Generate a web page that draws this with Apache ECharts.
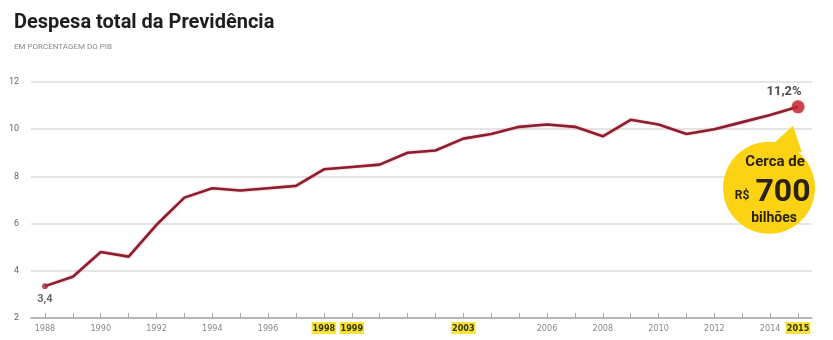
<!DOCTYPE html>
<html>
<head>
<meta charset="utf-8">
<script src="https://cdn.jsdelivr.net/npm/echarts@6/dist/echarts.min.js"></script>
<style>
html,body{margin:0;padding:0;background:#fff;}
#chart{width:833px;height:340px;}
</style>
</head>
<body>
<div id="chart"></div>
<script>
// ---- data ----
const years = ['1988','1989','1990','1991','1992','1993','1994','1995','1996','1997',
  '1998','1999','2000','2001','2002','2003','2004','2005','2006','2007',
  '2008','2009','2010','2011','2012','2013','2014','2015'];
const despesa = [3.35,3.75,4.8,4.6,5.95,7.1,7.5,7.4,7.5,7.6,
  8.3,8.4,8.5,9.0,9.1,9.6,9.8,10.1,10.2,10.1,
  9.7,10.4,10.2,9.8,10.0,10.3,10.6,10.95];
const labelYears = ['1988','1990','1992','1994','1996','1998','1999','2003','2006','2008','2010','2012','2014','2015'];
const highlightYears = ['1998','1999','2003','2015'];
const yTicks = [2,4,6,8,10,12];
const firstLabel = '3,4';
const lastLabel = '11,2%';
const bubbleLines = ['Cerca de', 'R$', '700', 'bilhões'];

const chart = echarts.init(document.getElementById('chart'));
const FONT = 'Roboto, "Noto Sans", sans-serif';

const option = {
  animation: false,
  backgroundColor: '#fff',
  title: {
    left: 9, top: 8,
    text: 'Despesa total da Previdência',
    subtext: 'EM PORCENTAGEM DO PIB',
    itemGap: 10,
    textStyle: {fontFamily: FONT, fontWeight: 'bold', fontSize: 20, color: '#1e1e1e'},
    subtextStyle: {fontFamily: FONT, fontSize: 8, color: '#8a8a8a'}
  },
  grid: {left: 31, right: 21, top: 82, bottom: 22},
  xAxis: {
    type: 'category',
    data: years,
    boundaryGap: true,
    axisLine: {lineStyle: {color: '#a8a8a8', width: 1.5}},
    axisTick: {show: true, inside: true, length: 5, alignWithLabel: true, interval: 0,
      lineStyle: {color: '#a8a8a8'}},
    axisLabel: {
      interval: function (i, v) { return labelYears.indexOf(v) >= 0; },
      margin: 4,
      fontFamily: '"DejaVu Sans Condensed", "DejaVu Sans", sans-serif',
      fontSize: 9,
      color: '#888',
      formatter: function (v) {
        return highlightYears.indexOf(v) >= 0 ? '{h|' + v + '}' : '{n|' + v + '}';
      },
      rich: {
        n: {fontSize: 9, color: '#888', padding: [2, 0, 1, 0]},
        h: {fontSize: 9, color: '#3a3300', fontWeight: 'bold', backgroundColor: '#f6e33a', padding: [2, 1, 1, 1]}
      }
    },
    splitLine: {show: false}
  },
  yAxis: {
    type: 'value',
    min: yTicks[0], max: yTicks[yTicks.length - 1], interval: 2,
    axisLine: {show: false},
    axisTick: {show: false},
    axisLabel: {margin: 12, fontFamily: FONT, fontSize: 9, color: '#666'},
    splitLine: {lineStyle: {color: '#dcdcdc', width: 1.5}}
  },
  series: [
    {
      type: 'line',
      data: despesa,
      symbol: 'none',
      z: 3,
      lineStyle: {color: '#8a1f30', width: 2.6, shadowColor: 'rgba(240,90,110,0.6)', shadowBlur: 2}
    },
    {
      type: 'scatter',
      z: 4,
      data: [
        {value: [years[0], despesa[0]], symbolSize: 6,
          itemStyle: {color: '#a3283c'},
          label: {show: true, position: 'bottom', distance: 5, formatter: firstLabel,
            fontFamily: FONT, fontWeight: 'bold', fontSize: 11, color: '#444'}},
        {value: [years[years.length - 1], despesa[despesa.length - 1]], symbolSize: 13,
          itemStyle: {color: '#c32630', shadowColor: 'rgba(200,40,50,0.4)', shadowBlur: 2},
          label: {show: true, position: 'top', distance: 2, offset: [-14, 0], formatter: lastLabel,
            fontFamily: FONT, fontWeight: 'bold', fontSize: 13, color: '#222'}}
      ]
    }
  ]
};
chart.setOption(option);

// yellow bubble anchored on the 2015 point
const p = chart.convertToPixel({seriesIndex: 0}, [years.length - 1, despesa[despesa.length - 1]]);
const cx = p[0] - 29, cy = p[1] + 81;
const YEL = '#fbd312';
const DARK = '#2b2216';
chart.setOption({
  graphic: [
    {type: 'polygon', z: 10, shape: {points: [[p[0] - 5, p[1] + 19], [p[0] - 28, p[1] + 40], [p[0] + 4, p[1] + 46]]},
      style: {fill: YEL}},
    {type: 'circle', z: 10, shape: {cx: cx, cy: cy, r: 46}, style: {fill: YEL}},
    {type: 'text', z: 11, x: cx + 6, y: cy - 26,
      style: {text: bubbleLines[0], fill: DARK, font: 'bold 15px ' + FONT, align: 'center', verticalAlign: 'middle'}},
    {type: 'text', z: 11, x: cx - 27, y: cy + 8,
      style: {text: bubbleLines[1], fill: DARK, font: 'bold 12px ' + FONT, align: 'center', verticalAlign: 'middle'}},
    {type: 'text', z: 11, x: cx + 14, y: cy + 5,
      style: {text: bubbleLines[2], fill: DARK, font: 'bold 32px ' + FONT, align: 'center', verticalAlign: 'middle'}},
    {type: 'text', z: 11, x: cx + 5, y: cy + 31,
      style: {text: bubbleLines[3], fill: DARK, font: 'bold 14px ' + FONT, align: 'center', verticalAlign: 'middle'}}
  ]
});
</script>
</body>
</html>
